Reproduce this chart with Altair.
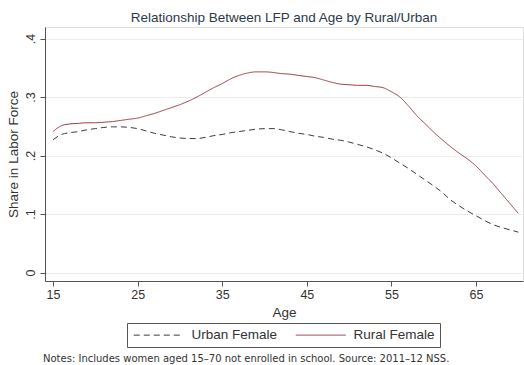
import altair as alt
import pandas as pd

# Age grid and smoothed labour-force participation shares
ages = list(range(15, 71))

rural_female = [
    0.241, 0.251, 0.254, 0.255, 0.256, 0.256, 0.257, 0.258, 0.260, 0.262,
    0.264, 0.268, 0.272, 0.277, 0.282, 0.287, 0.293, 0.300, 0.308, 0.316,
    0.323, 0.331, 0.337, 0.341, 0.343, 0.343, 0.342, 0.340, 0.339, 0.337,
    0.335, 0.333, 0.329, 0.325, 0.322, 0.321, 0.320, 0.320, 0.318, 0.316,
    0.309, 0.300, 0.285, 0.268, 0.254, 0.240, 0.227, 0.215, 0.204, 0.194,
    0.182, 0.167, 0.152, 0.135, 0.118, 0.101,
]

urban_female = [
    0.227, 0.236, 0.239, 0.241, 0.244, 0.246, 0.248, 0.249, 0.249, 0.248,
    0.246, 0.242, 0.238, 0.235, 0.232, 0.230, 0.229, 0.229, 0.231, 0.234,
    0.236, 0.239, 0.241, 0.243, 0.245, 0.246, 0.246, 0.244, 0.241, 0.238,
    0.236, 0.233, 0.231, 0.228, 0.226, 0.223, 0.219, 0.215, 0.210, 0.204,
    0.196, 0.187, 0.178, 0.168, 0.158, 0.148, 0.137, 0.124, 0.114, 0.105,
    0.097, 0.089, 0.082, 0.077, 0.073, 0.069,
]

series_names = ["Urban Female", "Rural Female"]
series_colors = ["#3c3c3c", "#9a3d45"]
series_dashes = [[6, 4], [1, 0]]

x_ticks = [15, 25, 35, 45, 55, 65]
y_ticks = [0, 0.1, 0.2, 0.3, 0.4]

title_text = "Relationship Between LFP and Age by Rural/Urban"
note_text = "Notes: Includes women aged 15\u201370 not enrolled in school. Source: 2011\u201312 NSS."

rows = []
for name, vals in zip(series_names, [urban_female, rural_female]):
    for a, v in zip(ages, vals):
        rows.append({"Age": a, "Share": v, "Group": name})
df = pd.DataFrame(rows)

W, H = 478, 254
FONT = "Liberation Sans"

lines = alt.Chart(df).mark_line(strokeWidth=1, interpolate="monotone").encode(
    x=alt.X(
        "Age:Q",
        scale=alt.Scale(domain=[14.05, 70.55], nice=False, zero=False),
        axis=alt.Axis(
            values=x_ticks, title="Age", grid=False,
            labelFontSize=12.5, titleFontSize=13.5, titleFontWeight="normal",
            labelPadding=2, titlePadding=5,
            tickSize=5, labelColor="#333333", titleColor="#333333",
            domainColor="#555555", tickColor="#555555",
        ),
    ),
    y=alt.Y(
        "Share:Q",
        scale=alt.Scale(domain=[-0.0145, 0.4197], nice=False, zero=False),
        axis=alt.Axis(
            values=y_ticks, title="Share in Labor Force",
            labelExpr="datum.value == 0 ? '0' : replace(format(datum.value, '.1f'), '0.', '.')",
            labelAngle=270, labelAlign="center", labelBaseline="bottom",
            labelFontSize=12.5, titleFontSize=13.5, titleFontWeight="normal",
            labelPadding=3, titlePadding=4,
            tickSize=5, labelColor="#333333", titleColor="#333333",
            domainColor="#555555", tickColor="#555555",
            gridColor="#ececec", gridWidth=1,
        ),
    ),
    color=alt.Color(
        "Group:N",
        scale=alt.Scale(domain=series_names, range=series_colors),
        legend=alt.Legend(
            title=None, orient="none", direction="horizontal",
            legendX=82, legendY=296,
            symbolType="M-1,0H9", symbolSize=100, symbolStrokeWidth=1,
            labelFontSize=13.5, labelColor="#333333", labelFont=FONT,
            labelOffset=46, columnPadding=15,
            strokeColor="#555555", padding=5, fillColor="white",
        ),
    ),
    strokeDash=alt.StrokeDash(
        "Group:N",
        scale=alt.Scale(domain=series_names, range=series_dashes),
        legend=None,
    ),
)

note = alt.Chart(pd.DataFrame({"t": [note_text]})).mark_text(
    align="left", baseline="middle", fontSize=10, color="#333333", font="DejaVu Sans",
).encode(text="t:N", x=alt.value(-2), y=alt.value(H + 78))

chart = alt.layer(lines, note).properties(
    width=W, height=H,
    title=alt.TitleParams(
        title_text, fontSize=13.5, fontWeight="normal", color="#2b3a4a",
        font=FONT, anchor="middle", offset=3,
    ),
    autosize=alt.AutoSizeParams(type="none"),
    padding={"left": 45, "top": 27, "right": 1, "bottom": 84},
).configure_view(stroke=None).configure(font=FONT)

chart.save("out.html", embed_options={"renderer": "svg", "actions": False})
